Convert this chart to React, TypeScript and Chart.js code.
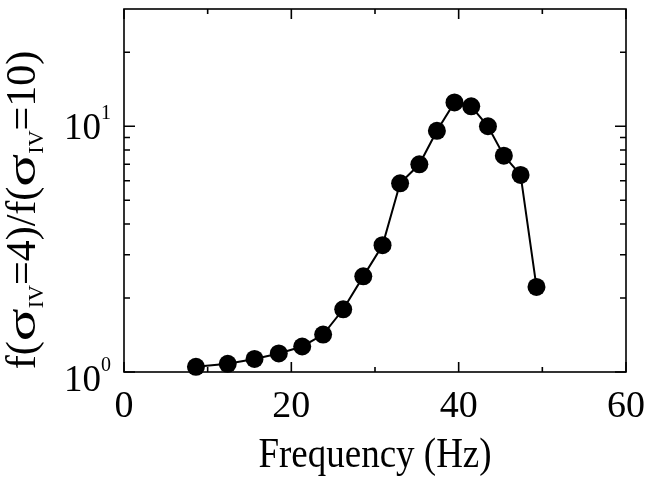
import React, { useEffect, useRef } from "react";
import { Chart, registerables } from "chart.js";

Chart.register(...registerables);

// ---- data ----
const frequencies = [8.6, 12.4, 15.6, 18.5, 21.3, 23.8, 26.2, 28.6, 30.9, 33.0, 35.3, 37.4, 39.5, 41.5, 43.5, 45.4, 47.4, 49.3];
const ratios = [1.05, 1.08, 1.13, 1.19, 1.27, 1.42, 1.8, 2.45, 3.28, 5.86, 7.0, 9.58, 12.5, 12.05, 10.0, 7.59, 6.34, 2.22];

const xMajorTicks = [0, 20, 40, 60];
const xMinorTicks = [10, 30, 50];
const yMajorTicks = [1, 10];
const yMajorBases = ["10", "10"];
const yMajorExponents = ["0", "1"];
const yMinorTicks = [2, 3, 4, 5, 6, 7, 8, 9, 20];

const xTitle = "Frequency (Hz)";
const yTitleTexts = ["f(", "σ", "IV", "=4)/f(", "σ", "IV", "=10)"];
const yTitleKinds = ["main", "sigma", "sub", "main", "sigma", "sub", "main"];

const FONT = "'Liberation Serif', 'DejaVu Serif', serif";

const framePlugin = {
  id: "framePlugin",
  beforeDatasetsDraw(chart: any) {
    const { ctx, chartArea: a, scales } = chart;
    const xs = scales.x;
    const ys = scales.y;
    ctx.save();
    ctx.strokeStyle = "#000";
    ctx.lineWidth = 1.6;
    ctx.strokeRect(a.left, a.top, a.right - a.left, a.bottom - a.top);
    ctx.beginPath();
    const xt = (v: number, len: number) => {
      const p = xs.getPixelForValue(v);
      ctx.moveTo(p, a.bottom);
      ctx.lineTo(p, a.bottom - len);
      ctx.moveTo(p, a.top);
      ctx.lineTo(p, a.top + len);
    };
    const yt = (v: number, len: number) => {
      const p = ys.getPixelForValue(v);
      ctx.moveTo(a.left, p);
      ctx.lineTo(a.left + len, p);
      ctx.moveTo(a.right, p);
      ctx.lineTo(a.right - len, p);
    };
    xMajorTicks.forEach((v) => xt(v, 10));
    xMinorTicks.forEach((v) => xt(v, 5));
    yMajorTicks.forEach((v) => yt(v, 11));
    yMinorTicks.forEach((v) => yt(v, 6));
    ctx.stroke();
    ctx.restore();
  },
  afterDraw(chart: any) {
    const { ctx, chartArea: a, scales } = chart;
    const xs = scales.x;
    const ys = scales.y;
    ctx.save();
    ctx.fillStyle = "#000";
    ctx.textBaseline = "alphabetic";
    // x tick labels
    ctx.font = `38px ${FONT}`;
    ctx.textAlign = "center";
    xMajorTicks.forEach((v) => {
      ctx.fillText(String(v), xs.getPixelForValue(v), a.bottom + 45);
    });
    // y tick labels with superscripts
    yMajorTicks.forEach((v, i) => {
      const p = ys.getPixelForValue(v);
      const atBottom = Math.abs(p - a.bottom) < 2;
      const base = p + (atBottom ? 19 : 13);
      ctx.font = `20px ${FONT}`;
      ctx.textAlign = "right";
      const supRight = a.left - 13;
      ctx.fillText(yMajorExponents[i], supRight, base - 20);
      const supW = ctx.measureText(yMajorExponents[i]).width;
      ctx.font = `37px ${FONT}`;
      ctx.fillText(yMajorBases[i], supRight - supW, base);
    });
    // x title (slightly tall serif, as in the original)
    ctx.save();
    ctx.font = `37px ${FONT}`;
    ctx.textAlign = "center";
    ctx.translate((a.left + a.right) / 2, 467);
    ctx.scale(1, 1.12);
    ctx.fillText(xTitle, 0, 0);
    ctx.restore();
    // y title with subscripts
    const fonts: Record<string, string> = {
      main: `42px ${FONT}`,
      sigma: `42px ${FONT}`,
      sub: `22px ${FONT}`,
    };
    const sigmaWidth = 33;
    let total = 0;
    const widths: number[] = [];
    yTitleTexts.forEach((t, i) => {
      ctx.font = fonts[yTitleKinds[i]];
      const w = yTitleKinds[i] === "sigma" ? sigmaWidth : ctx.measureText(t).width;
      widths.push(w);
      total += w;
    });
    ctx.translate(35, 210);
    ctx.rotate(-Math.PI / 2);
    ctx.textAlign = "left";
    let cx = -total / 2;
    yTitleTexts.forEach((t, i) => {
      const kind = yTitleKinds[i];
      ctx.font = fonts[kind];
      if (kind === "sigma") {
        const natural = ctx.measureText(t).width;
        ctx.save();
        ctx.translate(cx, 0);
        ctx.scale(sigmaWidth / natural, 1);
        ctx.fillText(t, 0, 0);
        ctx.restore();
      } else {
        ctx.fillText(t, cx, kind === "sub" ? 8 : 0);
      }
      cx += widths[i];
    });
    ctx.restore();
  },
};

export default function App() {
  const canvasRef = useRef<HTMLCanvasElement | null>(null);

  useEffect(() => {
    const canvas = canvasRef.current;
    if (!canvas) return;
    const chart = new Chart(canvas, {
      type: "line",
      data: {
        datasets: [
          {
            data: frequencies.map((f, i) => ({ x: f, y: ratios[i] })),
            borderColor: "#000",
            backgroundColor: "#000",
            borderWidth: 2,
            pointRadius: 9,
            pointHoverRadius: 9,
            pointBackgroundColor: "#000",
            pointBorderWidth: 0,
            tension: 0,
            clip: false as any,
          },
        ],
      },
      options: {
        animation: false,
        responsive: false,
        maintainAspectRatio: false,
        layout: { padding: { top: 6, right: 24, left: 0, bottom: 0 } },
        plugins: {
          legend: { display: false },
          tooltip: { enabled: false },
        },
        events: [],
        scales: {
          x: {
            type: "linear",
            min: 0,
            max: 60,
            ticks: { display: false },
            grid: { display: false },
            border: { display: false },
            afterFit: (s: any) => {
              s.height = 107;
            },
          },
          y: {
            type: "logarithmic",
            min: 1,
            max: 30,
            ticks: { display: false },
            grid: { display: false },
            border: { display: false },
            afterFit: (s: any) => {
              s.width = 124;
            },
          },
        },
      },
      plugins: [framePlugin],
    });
    return () => chart.destroy();
  }, []);

  return (
    <div style={{ position: "fixed", left: 0, top: 0, width: 650, height: 479, background: "#fff" }}>
      <canvas ref={canvasRef} width={650} height={479} style={{ width: 650, height: 479, display: "block" }} />
    </div>
  );
}
